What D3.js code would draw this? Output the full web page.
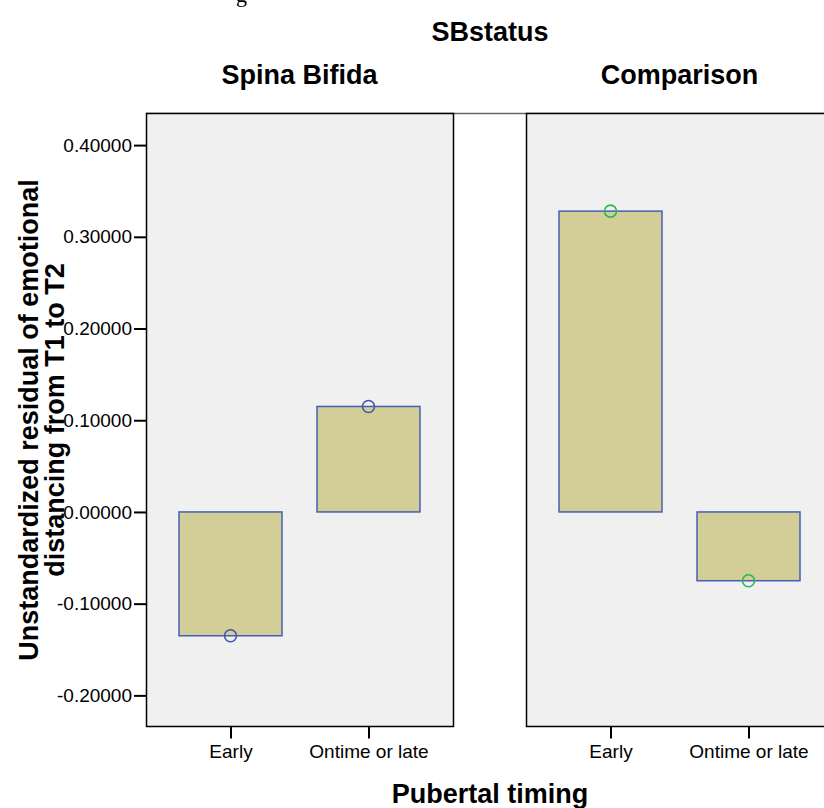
<!DOCTYPE html>
<html>
<head>
<meta charset="utf-8">
<script src="https://cdn.jsdelivr.net/npm/d3@7"></script>
<style>
  body { margin: 0; background: #fff; }
  svg { display: block; font-family: "Liberation Sans", Arial, sans-serif; }
</style>
</head>
<body>
<svg id="chart" width="824" height="808"></svg>
<script>
// data
const groups = ["Spina Bifida", "Comparison"];
const timing = ["Early", "Ontime or late"];
const sb_values = [-0.135, 0.115];
const comp_values = [0.328, -0.075];
const y_ticks = [-0.2, -0.1, 0.0, 0.1, 0.2, 0.3, 0.4];
const group_values = [sb_values, comp_values];
const point_colors = ["#3f57ad", "#2db84c"];

const width = 824, height = 808;
const panel_top = 113, panel_bottom = 726, panel_width = 307;
const panel_left = [146, 526];
const bar_width = 103;

const svg = d3.select("#chart");

let y_scale = d3.scaleLinear()
    .domain([-0.2334, 0.435])
    .range([panel_bottom, panel_top]);

let x_scale = d3.scalePoint()
    .domain(timing)
    .range([84.5, 222.5]);

// cut-off caption fragment at the very top (clipped in the reference too)
svg.append("text")
    .attr("x", 236).attr("y", 2)
    .style("font-family", "'Liberation Serif', 'Times New Roman', serif")
    .style("font-size", "22px")
    .text("g");

// titles
svg.append("text")
    .attr("x", 490).attr("y", 41)
    .attr("text-anchor", "middle")
    .style("font-weight", "bold").style("font-size", "27px")
    .text("SBstatus");

svg.append("text")
    .attr("x", 490).attr("y", 803)
    .attr("text-anchor", "middle")
    .style("font-weight", "bold").style("font-size", "27px")
    .text("Pubertal timing");

let y_title = svg.append("text")
    .attr("transform", "translate(" + 38 + "," + 420 + ") rotate(-90)")
    .attr("text-anchor", "middle")
    .style("font-weight", "bold").style("font-size", "27px");
y_title.append("tspan").attr("x", 0).attr("y", 0).text("Unstandardized residual of emotional");
y_title.append("tspan").attr("x", 0).attr("y", 26).text("distancing from T1 to T2");

// grey frame line across the top
svg.append("line")
    .attr("x1", panel_left[0]).attr("x2", width)
    .attr("y1", panel_top + 0.5).attr("y2", panel_top + 0.5)
    .attr("stroke", "#666").attr("stroke-width", 1.5);

groups.forEach(function(group, gi) {
    let x0 = panel_left[gi];
    let panel = svg.append("g").attr("transform", "translate(" + x0 + ",0)");

    panel.append("text")
        .attr("x", panel_width / 2).attr("y", 84)
        .attr("text-anchor", "middle")
        .style("font-weight", "bold").style("font-size", "27px")
        .text(group);

    panel.append("rect")
        .attr("x", 0.5).attr("y", panel_top + 0.5)
        .attr("width", panel_width).attr("height", panel_bottom - panel_top)
        .attr("fill", "#f0f0f0")
        .attr("stroke", "#000").attr("stroke-width", 1.5);

    let values = group_values[gi];

    panel.selectAll("rect.bar")
        .data(timing)
        .join("rect")
        .attr("class", "bar")
        .attr("x", d => x_scale(d) - bar_width / 2)
        .attr("y", (d, i) => y_scale(Math.max(0, values[i])))
        .attr("width", bar_width)
        .attr("height", (d, i) => Math.abs(y_scale(values[i]) - y_scale(0)))
        .attr("fill", "#d3ce97")
        .attr("stroke", "#4460b6").attr("stroke-width", 1.5);

    panel.selectAll("circle")
        .data(timing)
        .join("circle")
        .attr("cx", d => x_scale(d))
        .attr("cy", (d, i) => y_scale(values[i]))
        .attr("r", 6)
        .attr("fill", "none")
        .attr("stroke", point_colors[gi]).attr("stroke-width", 1.6);

    let x_axis = d3.axisBottom(x_scale).tickSize(12).tickSizeOuter(0).tickPadding(6);
    let x_axis_group = panel.append("g")
        .attr("transform", "translate(0," + (panel_bottom + 0.5) + ")")
        .call(x_axis);
    x_axis_group.select(".domain").remove();
    x_axis_group.selectAll("line").attr("stroke", "#000").attr("stroke-width", 2);
    x_axis_group.selectAll("text")
        .attr("fill", "#000")
        .style("font-family", "'Liberation Sans', Arial, sans-serif")
        .style("font-size", "19px");
});

// y axis on the left panel
let y_axis = d3.axisLeft(y_scale)
    .tickValues(y_ticks)
    .tickFormat(d => d.toFixed(5))
    .tickSize(12).tickSizeOuter(0).tickPadding(2);
let y_axis_group = svg.append("g")
    .attr("transform", "translate(" + panel_left[0] + ",0)")
    .call(y_axis);
y_axis_group.select(".domain").remove();
y_axis_group.selectAll("line").attr("stroke", "#000").attr("stroke-width", 2);
y_axis_group.selectAll("text")
    .attr("fill", "#000")
    .style("font-family", "'Liberation Sans', Arial, sans-serif")
    .style("font-size", "19px");
</script>
</body>
</html>
